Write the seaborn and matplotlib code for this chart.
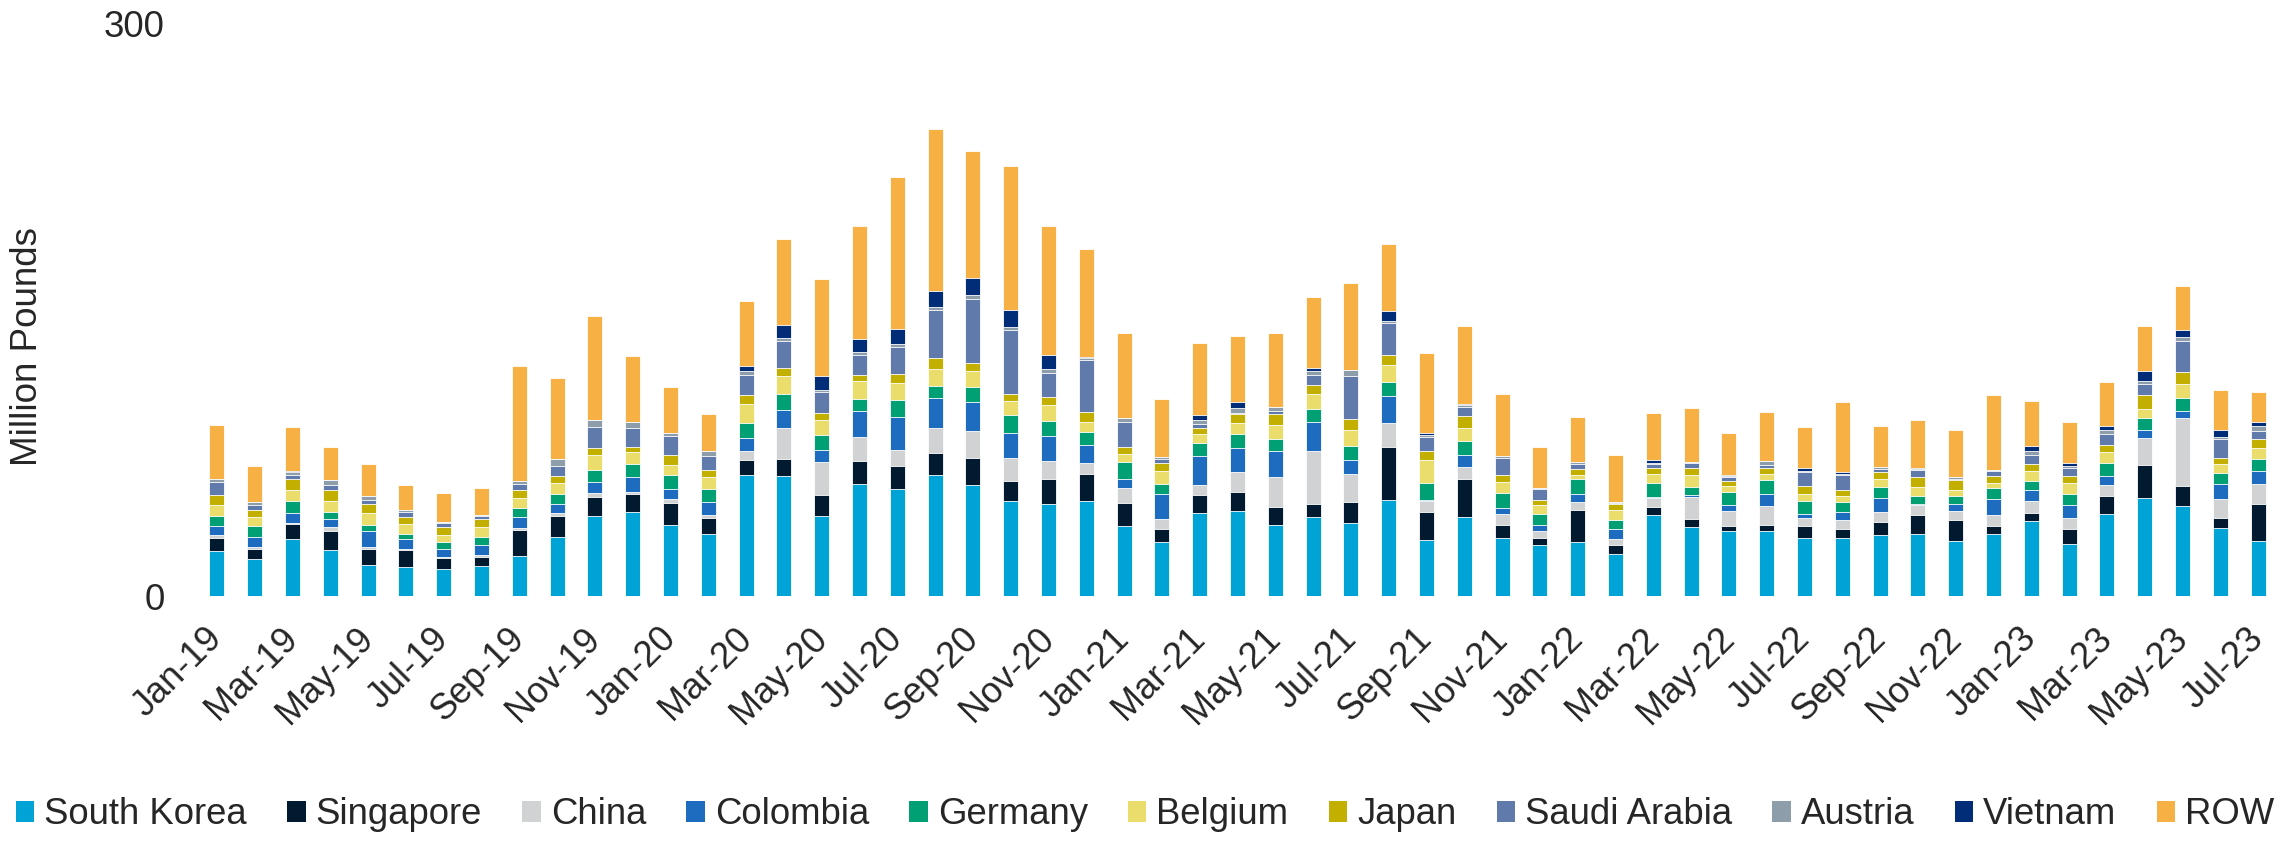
import matplotlib
matplotlib.use("Agg")
import numpy as np
import pandas as pd
import seaborn as sns
import matplotlib.pyplot as plt
from matplotlib.patches import Patch

months = pd.date_range("2019-01-01", periods=55, freq="MS").strftime("%b-%y").tolist()

countries = ["South Korea", "Singapore", "China", "Colombia", "Germany", "Belgium",
             "Japan", "Saudi Arabia", "Austria", "Vietnam", "ROW"]
colors = ["#00A3D6", "#011A30", "#D1D2D3", "#1E6CC0", "#009F74", "#EADD6B",
          "#C2AF00", "#607AAC", "#8E9DAA", "#012D78", "#F7B043"]

# million pounds
south_korea = [23.7, 19.5, 29.7, 24.2, 16.0, 15.3, 14.4, 15.6, 20.9, 30.7, 42.2, 44.1,
               37.4, 32.7, 63.4, 62.7, 42.2, 59.0, 55.9, 63.3, 58.0, 49.7, 48.5, 49.7,
               36.5, 28.1, 43.7, 44.6, 37.1, 41.5, 38.3, 50.6, 29.2, 41.6, 30.2, 26.9,
               28.1, 22.1, 42.7, 36.2, 33.9, 34.3, 30.4, 30.4, 32.0, 32.3, 28.8, 32.5,
               39.4, 27.2, 43.2, 51.5, 47.1, 35.7, 28.8]
singapore = [6.7, 5.4, 7.9, 10.0, 8.4, 8.6, 5.3, 4.6, 13.9, 11.2, 9.7, 9.3,
             11.6, 8.4, 7.7, 9.0, 10.7, 11.9, 12.1, 11.8, 14.6, 10.4, 12.8, 14.2,
             12.3, 6.9, 9.5, 9.7, 9.8, 6.5, 10.9, 27.6, 14.8, 19.7, 6.9, 3.7,
             17.0, 4.7, 3.9, 4.4, 3.0, 3.2, 6.5, 4.9, 7.0, 10.0, 11.2, 4.4,
             4.2, 7.7, 9.1, 17.0, 10.4, 5.1, 19.7]
china = [1.4, 0.9, 0.9, 1.8, 1.2, 0.7, 0.9, 1.4, 0.7, 1.8, 1.9, 1.2,
         1.8, 1.2, 4.7, 16.3, 17.6, 12.3, 8.6, 12.8, 13.7, 12.5, 9.3, 5.8,
         7.9, 5.3, 5.1, 10.5, 15.6, 27.8, 14.8, 12.7, 5.6, 6.3, 5.8, 3.5,
         4.0, 3.0, 4.6, 11.4, 7.9, 9.5, 4.2, 4.4, 5.3, 5.4, 4.7, 5.6,
         6.1, 6.1, 6.1, 14.4, 35.7, 10.2, 10.0]
colombia = [4.7, 5.1, 5.1, 4.2, 8.3, 5.1, 4.2, 4.9, 5.8, 4.6, 6.0, 7.7,
            5.4, 6.9, 7.0, 9.3, 6.1, 13.9, 17.2, 16.2, 15.5, 12.8, 13.4, 9.5,
            4.7, 13.2, 15.3, 12.8, 13.5, 15.3, 7.4, 13.9, 0.5, 6.5, 3.3, 3.2,
            4.2, 5.3, 0.5, 1.1, 3.0, 6.5, 1.8, 4.6, 7.0, 0.5, 3.3, 8.6,
            5.8, 6.5, 4.6, 4.2, 4.0, 7.6, 7.2]
germany = [5.3, 5.6, 6.0, 4.0, 3.5, 2.8, 3.3, 4.2, 4.9, 5.1, 6.1, 7.0,
           7.0, 6.7, 7.9, 8.6, 7.7, 6.3, 9.0, 6.0, 7.7, 9.3, 7.9, 6.9,
           9.0, 5.4, 6.5, 7.2, 6.3, 7.0, 7.4, 7.4, 9.0, 7.4, 7.7, 5.6,
           8.1, 4.6, 7.4, 3.9, 6.7, 7.2, 6.7, 4.9, 6.1, 4.4, 4.4, 5.4,
           4.6, 5.8, 6.5, 6.1, 6.5, 6.0, 6.3]
belgium = [5.8, 4.7, 5.8, 5.8, 6.0, 5.1, 4.0, 5.3, 5.4, 5.8, 8.1, 6.3,
           5.4, 6.5, 10.2, 9.7, 7.9, 9.3, 9.0, 9.0, 8.6, 7.6, 8.3, 5.1,
           4.0, 6.7, 4.7, 6.0, 7.4, 7.9, 8.4, 8.8, 12.1, 6.5, 6.0, 4.9,
           1.9, 5.6, 5.1, 6.3, 3.0, 3.2, 3.7, 3.0, 4.2, 4.7, 3.3, 3.0,
           5.4, 6.1, 6.1, 4.9, 7.6, 4.6, 5.4]
japan = [5.3, 4.0, 6.1, 5.6, 4.7, 4.0, 3.9, 4.4, 4.0, 3.5, 3.7, 2.8,
         5.3, 3.7, 4.7, 4.0, 3.7, 3.3, 4.4, 5.6, 4.2, 3.9, 4.0, 5.1,
         3.9, 4.4, 3.2, 4.6, 6.0, 4.7, 5.6, 5.3, 4.7, 6.3, 3.5, 2.5,
         3.3, 3.2, 3.0, 3.9, 2.6, 3.2, 4.6, 3.3, 3.2, 5.3, 4.9, 3.5,
         3.7, 3.7, 3.5, 7.4, 6.0, 3.2, 5.1]
saudi_arabia = [6.9, 2.3, 1.9, 2.5, 2.3, 2.3, 2.1, 1.4, 3.0, 5.4, 11.1, 9.7,
                10.0, 7.4, 10.5, 13.9, 11.2, 10.5, 14.2, 25.1, 33.4, 33.2, 13.0, 27.4,
                12.7, 2.1, 2.3, 0.7, 1.4, 5.3, 22.8, 17.0, 7.7, 4.9, 9.1, 5.8,
                2.6, 0.3, 1.9, 2.5, 2.3, 1.8, 6.9, 7.9, 1.9, 3.3, 0.7, 2.5,
                4.9, 3.9, 5.8, 5.8, 16.3, 9.7, 4.0]
austria = [1.4, 1.9, 1.4, 2.8, 1.8, 1.4, 0.9, 0.9, 1.9, 3.5, 3.7, 3.0,
           1.4, 2.5, 2.1, 1.9, 1.1, 1.4, 1.8, 1.8, 2.3, 1.8, 1.9, 1.2,
           2.3, 0.7, 1.8, 2.5, 1.8, 2.1, 2.8, 0.7, 1.1, 1.1, 1.1, 0.3,
           1.1, 0.5, 0.9, 0.5, 0.4, 1.9, 0.7, 0.5, 0.7, 0.7, 1.2, 0.5,
           2.1, 1.1, 2.3, 1.6, 2.5, 1.4, 2.6]
vietnam = [0.3, 0.0, 0.5, 0.0, 0.0, 0.0, 0.0, 0.0, 0.0, 0.0, 0.0, 0.0,
           0.0, 0.0, 2.3, 6.7, 7.0, 6.7, 7.7, 8.3, 8.8, 8.6, 7.4, 0.7,
           0.0, 0.0, 2.8, 3.0, 0.3, 1.4, 0.0, 5.3, 0.7, 0.4, 0.0, 0.0,
           0.0, 0.0, 1.2, 0.0, 0.5, 0.0, 1.6, 0.9, 0.4, 0.5, 0.0, 0.0,
           2.6, 1.8, 1.9, 5.3, 3.3, 3.7, 2.1]
row = [28.1, 18.6, 23.4, 17.2, 17.2, 13.0, 14.8, 13.9, 59.9, 42.9, 54.5, 34.6,
       24.4, 19.3, 34.3, 45.0, 51.3, 59.6, 80.1, 85.0, 66.4, 75.6, 67.5, 56.4,
       44.6, 30.6, 38.0, 35.0, 38.7, 37.4, 45.9, 35.1, 42.3, 40.8, 32.3, 21.6,
       23.7, 24.4, 24.6, 28.5, 22.3, 25.8, 21.6, 37.1, 21.4, 25.1, 24.8, 39.4,
       23.4, 21.1, 23.0, 23.5, 23.0, 21.1, 16.0]

series = [south_korea, singapore, china, colombia, germany, belgium,
          japan, saudi_arabia, austria, vietnam, row]

df = pd.DataFrame(dict(zip(countries, series)))
df["month"] = months
cum = df[countries].cumsum(axis=1)

sns.set_style("white")
plt.rcParams["font.family"] = ["Liberation Sans", "DejaVu Sans"]

fig = plt.figure(figsize=(22.93, 8.43), dpi=100)
ax = fig.add_axes([198 / 2293, 247 / 843, 2079 / 2293, 572 / 843])

# stacked bars: draw cumulative totals from the top series down
for name, col in reversed(list(zip(countries, colors))):
    sns.barplot(x=df["month"], y=cum[name], color=col, saturation=1, width=0.4,
                errorbar=None, edgecolor="white", linewidth=0.6, ax=ax)

ax.set_xlim(-0.5, len(months) - 0.5)
ax.set_ylim(0, 300)
ax.set_yticks([0, 300])
ax.set_xticks(range(0, len(months), 2))
ax.set_xticklabels(months[::2], rotation=45, ha="right", va="center",
                   rotation_mode="anchor", fontsize=26)
ax.tick_params(axis="y", length=0, pad=24, labelsize=26.5)
ax.tick_params(axis="x", length=0, pad=27)
ax.set_xlabel("")
ax.set_ylabel("")
sns.despine(ax=ax, left=True, bottom=True)

fig.text(27.5 / 2293, 1 - 347 / 843, "Million Pounds", rotation=90,
         ha="center", va="center", fontsize=26.5)

handles = [Patch(facecolor=c, edgecolor="none") for c in colors]
fig.legend(handles, countries, ncol=len(countries), loc="center left",
           bbox_to_anchor=(16 / 2293, 1 - 815 / 843), frameon=False,
           fontsize=26.3, handlelength=0.5, handleheight=0.5, handletextpad=0.28,
           columnspacing=1.1, borderpad=0, borderaxespad=0)

plt.savefig("out.png", dpi=100)
